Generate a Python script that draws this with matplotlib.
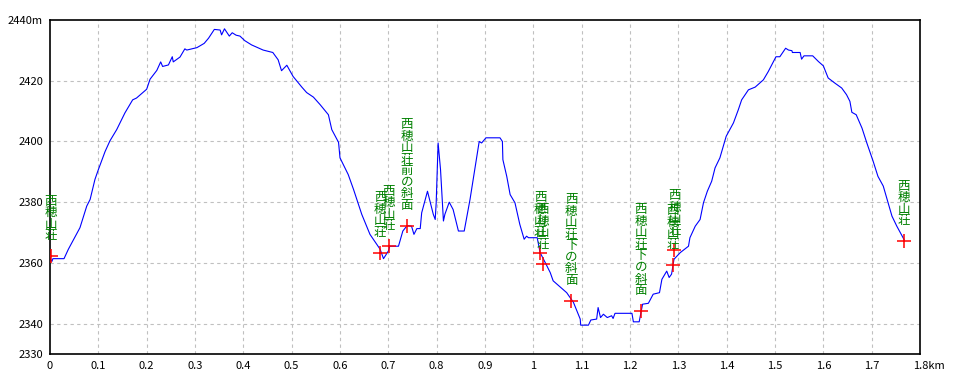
import numpy as np
import matplotlib
matplotlib.use("Agg")
import matplotlib.pyplot as plt

plt.rcParams['font.family'] = ['Noto Sans CJK JP', 'DejaVu Sans']

# elevation profile (km, m)
dist_km = [0.000, 0.004, 0.006, 0.029, 0.038, 0.062, 0.076, 0.083, 0.093, 0.100,
           0.114, 0.124, 0.138, 0.155, 0.171, 0.179, 0.200, 0.207, 0.221, 0.229,
           0.233, 0.245, 0.253, 0.255, 0.269, 0.279, 0.283, 0.304, 0.319, 0.328,
           0.340, 0.352, 0.355, 0.361, 0.371, 0.377, 0.385, 0.393, 0.403, 0.417,
           0.441, 0.461, 0.472, 0.479, 0.490, 0.503, 0.521, 0.531, 0.545, 0.559,
           0.576, 0.583, 0.597, 0.600, 0.617, 0.628, 0.645, 0.662, 0.683, 0.690,
           0.700, 0.703, 0.721, 0.730, 0.739, 0.748, 0.753, 0.759, 0.766, 0.769,
           0.781, 0.793, 0.797, 0.799, 0.803, 0.808, 0.814, 0.817, 0.826, 0.834,
           0.845, 0.857, 0.869, 0.881, 0.888, 0.893, 0.902, 0.931, 0.936, 0.937,
           0.945, 0.952, 0.962, 0.972, 0.981, 0.986, 0.990, 1.008, 1.014, 1.024,
           1.035, 1.041, 1.069, 1.083, 1.097, 1.098, 1.114, 1.119, 1.131, 1.134,
           1.139, 1.145, 1.153, 1.162, 1.165, 1.169, 1.204, 1.207, 1.219, 1.226,
           1.238, 1.248, 1.261, 1.266, 1.276, 1.281, 1.286, 1.291, 1.304, 1.321,
           1.324, 1.335, 1.345, 1.352, 1.360, 1.369, 1.376, 1.386, 1.393, 1.399,
           1.414, 1.424, 1.431, 1.445, 1.459, 1.476, 1.486, 1.495, 1.502, 1.510,
           1.522, 1.528, 1.535, 1.536, 1.552, 1.555, 1.560, 1.578, 1.590, 1.600,
           1.610, 1.624, 1.638, 1.648, 1.655, 1.659, 1.668, 1.680, 1.690, 1.703,
           1.713, 1.724, 1.732, 1.742, 1.752, 1.764, 1.767]
elev_m = [2361.4, 2360.5, 2361.4, 2361.4, 2364.5, 2371.6, 2378.7, 2380.9, 2387.5, 2390.7,
          2396.7, 2400.2, 2403.9, 2409.4, 2413.7, 2414.3, 2417.2, 2420.5, 2423.4, 2426.2,
          2424.7, 2425.2, 2427.9, 2426.2, 2427.8, 2430.5, 2430.1, 2430.9, 2432.3, 2434.0,
          2436.9, 2436.7, 2435.1, 2437.1, 2434.7, 2435.8, 2435.0, 2434.7, 2433.2, 2431.8,
          2430.1, 2429.3, 2426.9, 2423.3, 2425.1, 2421.4, 2417.9, 2416.1, 2414.6, 2412.1,
          2408.8, 2403.9, 2399.7, 2394.6, 2389.1, 2384.2, 2376.0, 2369.4, 2364.5, 2361.4,
          2363.9, 2365.5, 2365.5, 2370.5, 2372.3, 2372.1, 2369.4, 2371.3, 2371.3, 2376.5,
          2383.6, 2376.0, 2374.3, 2379.8, 2399.5, 2390.7, 2373.8, 2376.0, 2380.0, 2377.6,
          2370.5, 2370.5, 2380.9, 2392.9, 2400.0, 2399.5, 2401.2, 2401.2, 2400.0, 2394.0,
          2388.5, 2382.5, 2379.8, 2372.7, 2367.8, 2368.8, 2368.3, 2368.3, 2363.4, 2360.3,
          2356.8, 2354.1, 2350.2, 2347.0, 2341.5, 2339.5, 2339.5, 2341.2, 2341.5, 2345.3,
          2342.0, 2343.1, 2342.0, 2342.6, 2341.7, 2343.4, 2343.4, 2340.6, 2340.6, 2346.4,
          2346.7, 2349.7, 2350.2, 2354.6, 2357.3, 2355.2, 2356.3, 2361.2, 2363.4, 2365.5,
          2368.3, 2372.1, 2374.3, 2379.8, 2383.6, 2386.9, 2391.3, 2394.6, 2398.4, 2401.7,
          2406.1, 2410.4, 2413.7, 2417.0, 2417.9, 2420.3, 2423.0, 2425.8, 2427.9, 2427.9,
          2430.7, 2430.1, 2429.9, 2429.3, 2429.3, 2427.1, 2428.2, 2428.2, 2426.3, 2424.9,
          2420.9, 2419.2, 2417.6, 2415.4, 2413.2, 2409.6, 2408.8, 2404.4, 2399.5, 2393.5,
          2388.5, 2385.3, 2380.9, 2375.4, 2372.1, 2368.6, 2367.7]

# waypoints
wp_km = [0.002, 0.683, 0.701, 0.738, 1.014, 1.019, 1.078, 1.222, 1.292, 1.288, 1.766]
wp_m = [2362.3, 2363.4, 2365.6, 2372.3, 2363.4, 2359.5, 2347.5, 2344.2, 2364.1, 2359.2, 2367.2]
wp_names = ["西穂山荘", "西穂山荘", "西穂山荘", "西穂山荘前の斜面", "西穂山荘", "西穂山荘",
            "西穂山荘下の斜面", "西穂山荘下の斜面", "西穂山荘", "西穂山荘", "西穂山荘"]

x_ticks = [0, 0.1, 0.2, 0.3, 0.4, 0.5, 0.6, 0.7, 0.8, 0.9, 1.0, 1.1, 1.2, 1.3, 1.4, 1.5, 1.6, 1.7, 1.8]
x_labels = ["0", "0.1", "0.2", "0.3", "0.4", "0.5", "0.6", "0.7", "0.8", "0.9",
            "1", "1.1", "1.2", "1.3", "1.4", "1.5", "1.6", "1.7", ""]
y_ticks = [2330, 2340, 2360, 2380, 2400, 2420, 2440]
y_labels = ["2330", "2340", "2360", "2380", "2400", "2420", "2440m"]

fig = plt.figure(figsize=(9.6, 3.84), dpi=100)
ax = fig.add_axes([50 / 960, 30 / 384, 870 / 960, 334 / 384])

# grid
for gx in x_ticks[1:-1]:
    ax.axvline(gx, color="#c0c0c0", lw=0.8, ls=(0, (3, 3)), zorder=0)
for gy in [2340, 2360, 2380, 2400, 2420]:
    ax.axhline(gy, color="#c0c0c0", lw=0.8, ls=(0, (3, 3)), zorder=0)

ax.plot(dist_km, elev_m, color="#0000ff", lw=0.8, zorder=2)

ax.plot(wp_km, wp_m, ls="none", marker="+", color="red", markersize=10, mew=1.1, zorder=3)
for xk, ym, name in zip(wp_km, wp_m, wp_names):
    ax.annotate("\n".join(name), xy=(xk, ym), xytext=(0, 10), textcoords="offset points",
                ha="center", va="bottom", color="green", fontsize=9, linespacing=0.85, zorder=4)

ax.set_xlim(0, 1.8)
ax.set_ylim(2330, 2440)
ax.set_xticks(x_ticks)
ax.set_xticklabels(x_labels)
ax.set_yticks(y_ticks)
ax.set_yticklabels(y_labels)
ax.tick_params(length=0, labelsize=8, pad=5)
ax.annotate("1.8km", xy=(1.8, 0), xycoords=("data", "axes fraction"), xytext=(-5, -5),
            textcoords="offset points", ha="left", va="top", fontsize=8)
for s in ax.spines.values():
    s.set_linewidth(1.2)

fig.savefig("out.png", dpi=100)
